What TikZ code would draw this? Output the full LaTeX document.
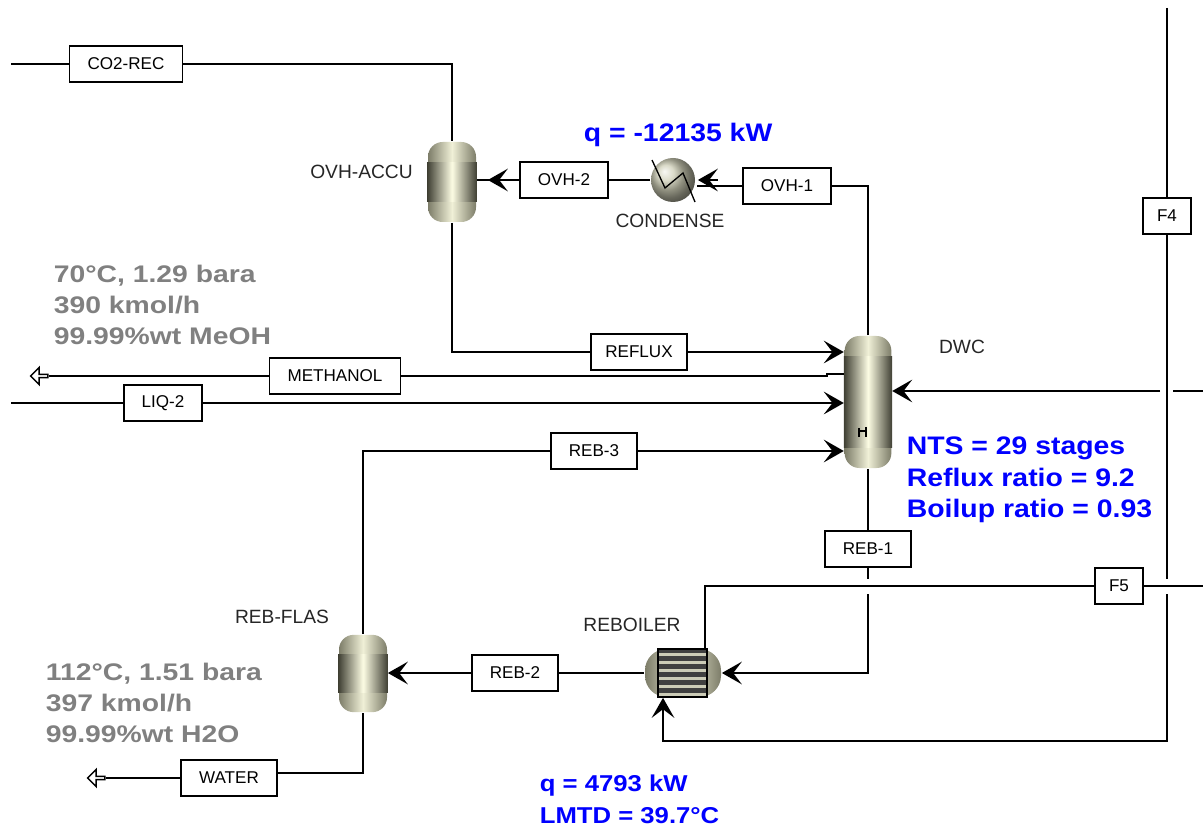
\documentclass[tikz,border=0pt]{standalone}
\usepackage{fontspec}
\setmainfont{Liberation Sans}
\newfontfamily\bluefont[FakeStretch=1.12]{Liberation Sans Bold}
\newfontfamily\grayfont[FakeStretch=1.18]{Liberation Sans Bold}
\usepackage{tikz}
\usetikzlibrary{calc}
\usetikzlibrary{arrows.meta}
\usetikzlibrary{shapes.arrows}
\tikzset{
	streambox/.style={draw=black,line width=1.3pt,fill=white,inner sep=0pt,inner xsep=13.5pt,minimum height=27pt,font=\fontsize{12.8}{15}\selectfont},
	eqlabel/.style={inner sep=0pt,font=\fontsize{14.4}{15}\selectfont,text=black!85},
	bluenote/.style={inner sep=0pt,anchor=west,align=left,text=blue,font=\bluefont\fontsize{19}{23.6}\selectfont},
	graynote/.style={inner sep=0pt,anchor=west,align=left,text=black!50,font=\grayfont\fontsize{18}{23}\selectfont},
	vessel/.style={inner sep=0pt,rounded corners=11pt,left color=capedge,right color=capedge,middle color=capmid},
	flow/.style={-{Stealth[length=15pt,width=17pt,inset=6.5pt]}},
	openend/.style={draw=black,line width=1.1pt,fill=white,single arrow,shape border rotate=180,inner sep=0pt,minimum width=13pt,minimum height=13pt,single arrow head extend=2.5pt},
}
\definecolor{capedge}{RGB}{125,125,105}
\definecolor{capmid}{RGB}{240,240,215}
\definecolor{bodyedge}{RGB}{62,62,50}
\definecolor{bodymid}{RGB}{253,253,228}
\begin{document}
\begin{tikzpicture}[x=0.75pt,y=-0.75pt,line width=1.3pt]
	\useasboundingbox (0,0) rectangle (1203,830);
	% equipment
	\node[vessel,minimum width=36pt,minimum height=60pt] (accu) at (452,182) {};
	\node[vessel,minimum width=35pt,minimum height=99pt] (dwc) at (868,402) {};
	\node[vessel,minimum width=36pt,minimum height=58pt] (flas) at (363,673.5) {};
	\foreach \v in {accu,dwc,flas}
		{\shade[left color=bodyedge,right color=bodyedge,middle color=bodymid] ($(\v.north west)+(0,21)$) rectangle ($(\v.south east)+(0,-21)$);
	};
	\node[circle,inner sep=0pt,minimum size=33pt,ball color=capmid!70!capedge,shading=ball] (condense) at (673,180) {};
	\node[inner sep=0pt,rounded corners=16pt,minimum width=57pt,minimum height=36pt,left color=capedge,right color=capedge,middle color=capmid] (reboil) at (683,673) {};
	\fill[black!75] (658,649) rectangle (707,697);
	\foreach \j in {655,663,...,695}
		{\fill[capmid!85!black] (659,\j-2) rectangle (706,\j+1);
	};
	\draw[line width=1pt] (658,649) rectangle (707,697);
	% small marks inside the equipment
	\draw[line width=1pt] (859,428)--++(0,9) (866,427)--++(0,10) (859,431)--(866,431);
	\draw[line width=1pt] (652,160)--(665,188)--(683,173)--(695,202);
	% stream labels
	\node[streambox] (co2rec) at (126,64) {CO2-REC};
	\node[streambox] (ovh2) at (564,180) {OVH-2};
	\node[streambox] (ovh1) at (787,186) {OVH-1};
	\node[streambox,inner xsep=0pt,minimum width=36pt] (ffour) at (1167,216) {F4};
	\node[streambox,inner xsep=10.5pt] (reflux) at (639,352) {REFLUX};
	\node[streambox] (methanol) at (335,376) {METHANOL};
	\node[streambox] (liq) at (163,403) {LIQ-2};
	\node[streambox] (rebthree) at (594,451) {REB-3};
	\node[streambox] (rebone) at (868,549) {REB-1};
	\node[streambox,inner xsep=0pt,minimum width=36pt] (ffive) at (1119,586) {F5};
	\node[streambox] (rebtwo) at (515,673) {REB-2};
	\node[streambox] (water) at (229,778) {WATER};
	\node[openend] (methout) at (40,376) {};
	\node[openend] (waterout) at (97,778) {};
	% free ends and gaps
	\coordinate (co2in) at (11,64);
	\coordinate (liqin) at (11,403);
	\coordinate (ftop) at (1167,8);
	\coordinate (fgapa) at (1167,579);
	\coordinate (fgapb) at (1167,594);
	\coordinate (rgapa) at (868,579);
	\coordinate (rgapb) at (868,594);
	\coordinate (feedr) at (1203,391);
	\coordinate (feedb) at (1173,391);
	\coordinate (feeda) at (1160,391);
	\coordinate (ffend) at (1203,586);
	\coordinate (meoa) at (827,376);
	\coordinate (condin) at (697,186);
	% streams
	\draw (co2in) -- (co2rec);
	\draw (co2rec) -| (accu.north);
	\draw (accu.south) |- (reflux);
	\draw[flow] (reflux) -- (reflux-|dwc.west);
	\draw (dwc.north) |- (ovh1);
	\draw (ovh1) -- (condin);
	\draw[flow] ($(condense.east)+(22,0)$) -- ($(condense.east)+(2,0)$);
	\draw (condense.west) -- (ovh2);
	\draw (ovh2) -- (ovh2-|accu.east);
	\draw[flow] (ovh2) -- ($(accu.east|-ovh2)+(11,0)$);
	\draw (methout) -- (methanol);
	\draw (methanol) -- (meoa) -- ++(0,-2) -- ($(dwc.west|-meoa)+(0,-2)$);
	\draw (liqin) -- (liq);
	\draw[flow] (liq) -- (liq-|dwc.west);
	\draw (flas.north) |- (rebthree);
	\draw[flow] (rebthree) -- (rebthree-|dwc.west);
	\draw[flow] (feeda) -- (feeda-|dwc.east);
	\draw (feedb) -- (feedr);
	\draw (dwc.south) -- (rebone);
	\draw (rebone) -- (rgapa);
	\draw[flow] (rgapb) |- (reboil.east);
	\draw (reboil.west) -- (rebtwo);
	\draw[flow] (rebtwo) -- (rebtwo-|flas.east);
	\draw (705,649) |- (ffive);
	\draw (ffive) -- (ffend);
	\draw (ftop) -- (ffour);
	\draw (ffour) -- (fgapa);
	\draw[flow] (fgapb) |- (663,741) -- (reboil.south-|663,0);
	\draw (flas.south) |- (363,773) -- (water.east|-363,773);
	\draw (water) -- (waterout);
	% equipment names
	\node[eqlabel] (accuname) at (361.5,172) {OVH-ACCU};
	\node[eqlabel] (condname) at (670,221) {CONDENSE};
	\node[eqlabel] (dwcname) at (962,347) {DWC};
	\node[eqlabel] (flasname) at (282,617) {REB-FLAS};
	\node[eqlabel] (rebname) at (632,625) {REBOILER};
	% results
	\node[bluenote] (qcond) at (583,135) {q = -12135 kW};
	\node[bluenote] (dwcnote) at (906,480) {NTS = 29 stages\\Reflux ratio = 9.2\\Boilup ratio = 0.93};
	\node[bluenote,font=\bluefont\fontsize{17.2}{23.6}\selectfont] (qreb) at (539,799.5) {q = 4793 kW\\LMTD = 39.7°C};
	\node[graynote] (meonote) at (53,305) {70°C, 1.29 bara\\390 kmol/h\\99.99\%wt MeOH};
	\node[graynote] (waternote) at (45,703) {112°C, 1.51 bara\\397 kmol/h\\99.99\%wt H2O};
\end{tikzpicture}
\end{document}
